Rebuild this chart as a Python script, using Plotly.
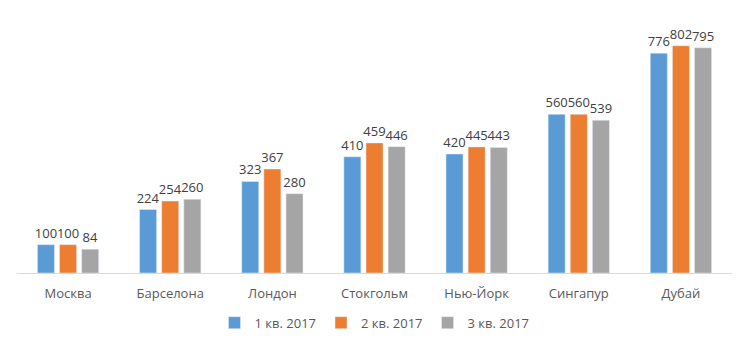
import plotly.graph_objects as go

categories = ["Москва", "Барселона", "Лондон", "Стокгольм", "Нью-Йорк", "Сингапур", "Дубай"]
series_names = ["1 кв. 2017", "2 кв. 2017", "3 кв. 2017"]
q1 = [100, 224, 323, 410, 420, 560, 776]
q2 = [100, 254, 367, 459, 445, 560, 802]
q3 = [84, 260, 280, 446, 443, 539, 795]
colors = ["#5B9BD5", "#ED7D31", "#A5A5A5"]

fig = go.Figure()
for name, vals, col in zip(series_names, [q1, q2, q3], colors):
    fig.add_trace(go.Bar(
        x=categories, y=vals, name=name, marker_color=col,
        text=[str(v) for v in vals], textposition="outside",
        textfont=dict(size=13, color="#404040"), cliponaxis=False,
        constraintext="none",
    ))

fig.update_layout(
    width=750, height=350,
    margin=dict(l=17, r=18, t=18, b=75),
    paper_bgcolor="white", plot_bgcolor="white",
    barmode="group", bargap=0.35, bargroupgap=0.23,
    font=dict(family="Open Sans", size=13, color="#595959"),
    showlegend=True,
    legend=dict(orientation="h", x=0.5, xanchor="center", y=-0.195, yanchor="middle",
                font=dict(size=13, color="#595959"), itemwidth=30),
    xaxis=dict(showline=True, linecolor="#D9D9D9", linewidth=1, ticks="",
               showgrid=False, tickfont=dict(size=13, color="#595959"), ticklabelstandoff=8),
    yaxis=dict(range=[0, 900], visible=False, showgrid=False),
)
fig.write_html("out.html")
